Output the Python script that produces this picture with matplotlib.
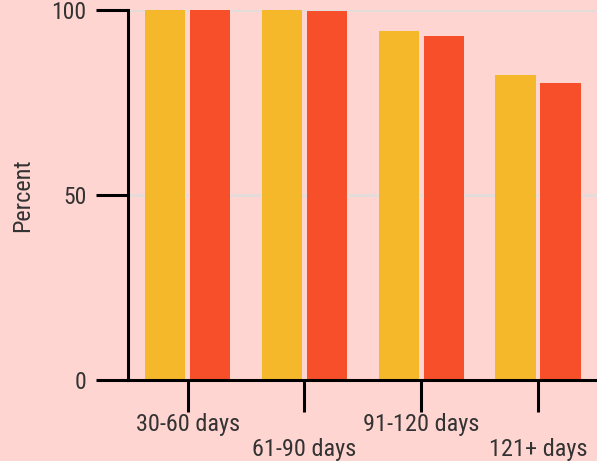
import numpy as np
import matplotlib
matplotlib.use('Agg')
import matplotlib.pyplot as plt

categories = ['30-60 days', '61-90 days', '91-120 days', '121+ days']
series_a = [99.9, 99.9, 94.3, 82.3]
series_b = [99.9, 99.8, 93.0, 80.4]
yticks = [0, 50, 100]

bg = '#FFD5D1'
col_a = '#F6B82B'
col_b = '#F74F29'

plt.rcParams['font.family'] = ['Roboto Condensed', 'DejaVu Sans']

fig = plt.figure(figsize=(5.97, 4.61), dpi=100, facecolor=bg)
ax = fig.add_axes([0.2144, 0.1757, 0.7856, 0.8026])
ax.set_facecolor(bg)

x = np.arange(len(categories))
w = 0.345
ax.bar(x - w / 2 - 0.02, series_a, w, color=col_a, zorder=3)
ax.bar(x + w / 2 + 0.02, series_b, w, color=col_b, zorder=3)

ax.set_xlim(-0.51, 3.505)
ax.set_ylim(0, 100)
ax.set_yticks(yticks)
ax.set_xticks(x)
# stagger the labels: every other one goes a line lower
labels = [c if i % 2 == 0 else '\n' + c for i, c in enumerate(categories)]
ax.set_xticklabels(labels, linespacing=1.1)

ax.grid(axis='y', color='#E2DCDA', linewidth=2, zorder=0)
for s in ['top', 'right']:
    ax.spines[s].set_visible(False)
for s in ['left', 'bottom']:
    ax.spines[s].set_linewidth(2.2)
    ax.spines[s].set_color('black')
    ax.spines[s].set_zorder(4)

ax.tick_params(axis='both', length=23, width=2.2, colors='black',
               labelcolor='#333333')
ax.tick_params(axis='x', labelsize=17.5, pad=1)
ax.tick_params(axis='y', labelsize=17, pad=7)
ax.set_ylabel('Percent', fontsize=17.5, color='#333333', labelpad=12)

fig.savefig('out.png', dpi=100, facecolor=bg)
